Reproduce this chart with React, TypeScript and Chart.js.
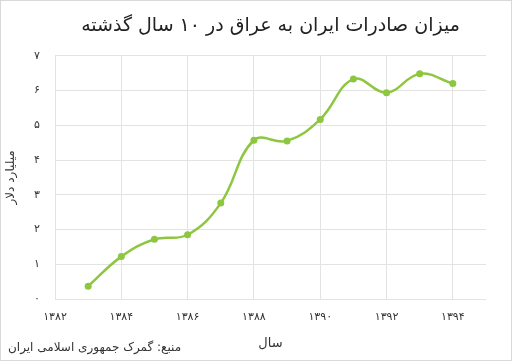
import React, { useEffect, useRef } from "react";
import { Chart, registerables } from "chart.js";

Chart.register(...registerables);

const years = [1383, 1384, 1385, 1386, 1387, 1388, 1389, 1390, 1391, 1392, 1393, 1394];
const exportsBn = [0.37, 1.22, 1.72, 1.85, 2.76, 4.57, 4.55, 5.17, 6.33, 5.94, 6.48, 6.2];
const xTickYears = [1382, 1384, 1386, 1388, 1390, 1392, 1394];
const xTickLabels = ["۱۳۸۲", "۱۳۸۴", "۱۳۸۶", "۱۳۸۸", "۱۳۹۰", "۱۳۹۲", "۱۳۹۴"];
const yTickLabels = ["۰", "۱", "۲", "۳", "۴", "۵", "۶", "۷"];

const titleText = "میزان صادرات ایران به عراق در ۱۰ سال گذشته";
const yTitle = "میلیارد دلار";
const xTitle = "سال";
const sourceText = "منبع: گمرک جمهوری اسلامی ایران";

const FONT = "'DejaVu Sans', sans-serif";

export default function App() {
  const ref = useRef<HTMLCanvasElement | null>(null);
  useEffect(() => {
    if (!ref.current) return;
    const frame = {
      id: "frame",
      afterDraw(chart: any) {
        const ctx = chart.ctx;
        ctx.save();
        ctx.strokeStyle = "#d9d9d9";
        ctx.lineWidth = 1;
        ctx.strokeRect(0.5, 0.5, chart.width - 1, chart.height - 1);
        ctx.fillStyle = "#333333";
        ctx.font = `12px ${FONT}`;
        ctx.textBaseline = "middle";
        ctx.textAlign = "left";
        ctx.fillText(sourceText, 8, 348);
        ctx.restore();
      },
    };
    const chart = new Chart(ref.current, {
      type: "line",
      data: {
        datasets: [
          {
            data: years.map((y, i) => ({ x: y, y: exportsBn[i] })),
            borderColor: "#8DC63F",
            backgroundColor: "#8DC63F",
            borderWidth: 2.5,
            pointRadius: 3.5,
            pointBorderWidth: 0,
            tension: 0.4,
            fill: false,
          },
        ],
      },
      options: {
        animation: false,
        responsive: false,
        layout: { padding: { left: 0, right: 26, top: 0, bottom: 0 } },
        plugins: {
          legend: { display: false },
          tooltip: { enabled: false },
          title: {
            display: true,
            text: titleText,
            fullSize: false,
            color: "#222222",
            font: { family: FONT, size: 19, weight: "normal" },
            padding: { top: 15, bottom: 18 },
          },
        },
        scales: {
          x: {
            type: "linear",
            min: 1382,
            max: 1395,
            afterBuildTicks: (s: any) => {
              s.ticks = xTickYears.map((v) => ({ value: v }));
            },
            afterFit: (s: any) => {
              s.height = 62;
            },
            ticks: {
              stepSize: 2,
              padding: 12,
              color: "#333333",
              font: { family: FONT, size: 11 },
              maxRotation: 0,
              callback: (v: any) => {
                const i = xTickYears.indexOf(Number(v));
                return i >= 0 ? xTickLabels[i] : "";
              },
            },
            grid: { color: "#e3e3e3", drawTicks: false },
            border: { display: false },
            title: {
              display: true,
              text: xTitle,
              color: "#333333",
              font: { family: FONT, size: 13 },
              padding: { top: 0, bottom: 10 },
            },
          },
          y: {
            min: 0,
            max: 7,
            afterFit: (s: any) => {
              s.width = 55;
            },
            ticks: {
              stepSize: 1,
              padding: 15,
              color: "#333333",
              font: { family: FONT, size: 11 },
              callback: (v: any) => yTickLabels[Number(v)] ?? "",
            },
            grid: { color: "#e3e3e3", drawTicks: false },
            border: { display: false },
            title: {
              display: true,
              text: yTitle,
              color: "#333333",
              font: { family: FONT, size: 12 },
              padding: { top: 4, bottom: 4 },
            },
          },
        },
      },
      plugins: [frame],
    });
    return () => chart.destroy();
  }, []);
  return (
    <div style={{ position: "fixed", left: 0, top: 0, width: 512, height: 361, background: "#fff" }}>
      <canvas ref={ref} width={512} height={361} style={{ display: "block" }} />
    </div>
  );
}
